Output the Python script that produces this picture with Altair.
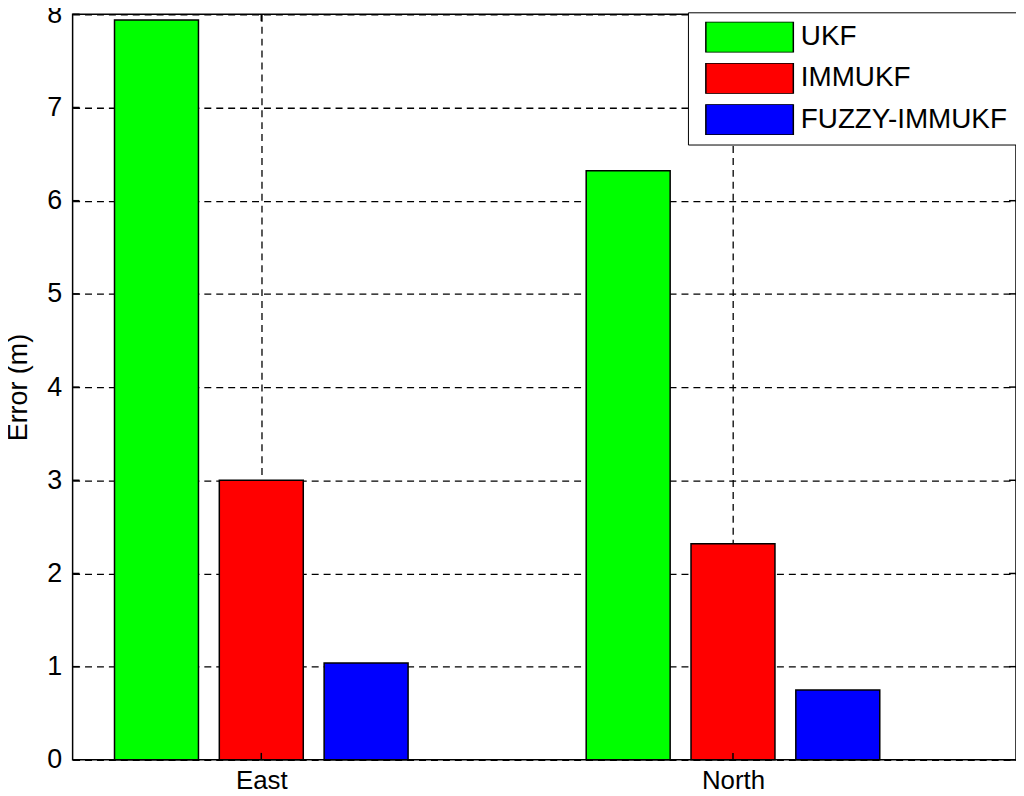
import json
import altair as alt
import pandas as pd

# ---- data ----
groups = ["East", "North"]
group_pos = [1, 2]
series = ["UKF", "IMMUKF", "FUZZY-IMMUKF"]
colors = ["#00ff00", "#ff0000", "#0000ff"]
ukf = [7.94, 6.32]
immukf = [3.0, 2.32]
fuzzy = [1.04, 0.75]
y_ticks = [0, 1, 2, 3, 4, 5, 6, 7, 8]

values = [ukf, immukf, fuzzy]
bar_step = 0.2222
bar_width = 0.178

rows = []
for si, s in enumerate(series):
    for gi, g in enumerate(groups):
        rows.append({"group": g, "series": s, "value": values[si][gi],
                     "gpos": group_pos[gi], "sidx": si})
df = pd.DataFrame(rows)
ytick_df = pd.DataFrame({"v": y_ticks})
xtick_df = pd.DataFrame({"p": group_pos})

W, H = 949, 750
FONT = "Liberation Sans"
FS = 27

xscale = alt.Scale(domain=[0.6, 2.6], nice=False, zero=False)
yscale = alt.Scale(domain=[0, 8], nice=False)
label_expr = json.dumps(groups) + "[datum.value - 1]"

x_axis = alt.Axis(values=group_pos, labelExpr=label_expr, grid=True,
                  labelPadding=8, labelFlush=False, labelFontSize=26)
y_axis = alt.Axis(values=y_ticks, grid=True, labelPadding=11,
                  titlePadding=14, format="d")
X_TITLE = ""
Y_TITLE = "Error (m)"

bars = alt.Chart(df).transform_calculate(
    center=f"datum.gpos + (datum.sidx - 1) * {bar_step}"
).transform_calculate(
    xa=f"datum.center - {bar_width / 2}",
    xb=f"datum.center + {bar_width / 2}",
).mark_rect(stroke="black", strokeWidth=1.5, opacity=1).encode(
    x=alt.X("xa:Q", scale=xscale, title=X_TITLE, axis=x_axis),
    x2="xb:Q",
    y=alt.Y("value:Q", scale=yscale, title=Y_TITLE, axis=y_axis),
    y2=alt.datum(0),
    color=alt.Color(
        "series:N",
        scale=alt.Scale(domain=series, range=colors),
        legend=alt.Legend(
            title=None, orient="none", legendX=619, legendY=-2,
            symbolType="M-1,-0.352L1,-0.352L1,0.352L-1,0.352Z",
            symbolSize=7744, symbolStrokeColor="black", symbolStrokeWidth=1.5,
            symbolOpacity=1, clipHeight=31, rowPadding=10.5,
            symbolOffset=7.5, labelOffset=6.5, padding=9.5,
            labelLimit=500,
            strokeColor="black", fillColor="white",
            labelFont=FONT, labelFontSize=28, labelColor="black",
        ),
    ),
)

tick_len = 7
yl = alt.Chart(ytick_df).mark_rule(color="black", strokeWidth=1.5).encode(
    y=alt.Y("v:Q", scale=yscale, title=Y_TITLE, axis=y_axis),
    x=alt.value(0), x2=alt.value(tick_len))
yr = alt.Chart(ytick_df).mark_rule(color="black", strokeWidth=1.5).encode(
    y=alt.Y("v:Q", scale=yscale, title=Y_TITLE, axis=y_axis),
    x=alt.value(W - tick_len), x2=alt.value(W))
xb = alt.Chart(xtick_df).mark_rule(color="black", strokeWidth=1.5).encode(
    x=alt.X("p:Q", scale=xscale, title=X_TITLE, axis=x_axis),
    y=alt.value(H - tick_len), y2=alt.value(H))
xt = alt.Chart(xtick_df).mark_rule(color="black", strokeWidth=1.5).encode(
    x=alt.X("p:Q", scale=xscale, title=X_TITLE, axis=x_axis),
    y=alt.value(0), y2=alt.value(tick_len))

chart = alt.layer(bars, yl, yr, xb, xt).properties(
    width=W, height=H,
    autosize=alt.AutoSizeParams(type="none"),
    padding={"left": 65, "top": 4, "right": 0, "bottom": 32},
    background="white",
).configure_view(
    stroke="black", strokeWidth=1.5
).configure_axis(
    labelFont=FONT, titleFont=FONT, labelFontSize=FS, titleFontSize=FS,
    labelColor="black", titleColor="black", titleFontWeight="normal",
    gridColor="black", gridDash=[7, 5], gridWidth=1.3, gridOpacity=1,
    domain=False, ticks=False, tickSize=0,
)

chart.save("out.html", embed_options={"renderer": "svg", "actions": False})
